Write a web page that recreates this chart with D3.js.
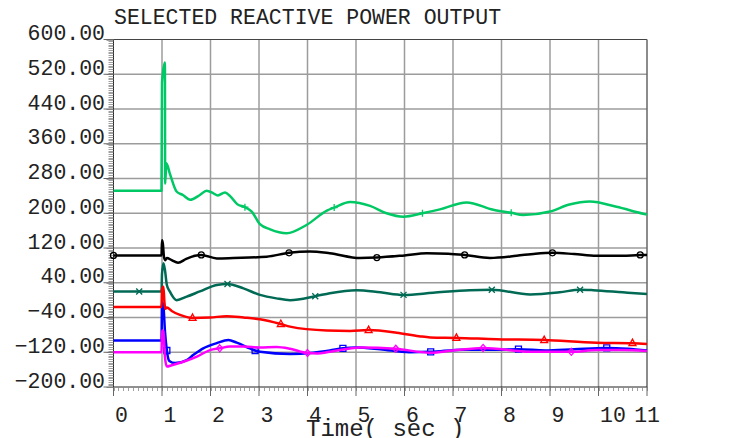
<!DOCTYPE html>
<html lang="en">

<head>
    <meta charset="UTF-8">
    <title>Selected Reactive Power Output</title>
    <style>
        html,
        body {
            background-color: white;
            margin: 0;
        }

        text {
            font-family: "Liberation Mono", "DejaVu Sans Mono", monospace;
            fill: #222;
        }
    </style>
</head>

<body>
    <main></main>
    <script src="https://d3js.org/d3.v7.min.js"></script>
    <script>
        // - - - - - - - - - -
        // Data: [time (s), Mvar]
        // - - - - - - - - - -
        const greenPts = [[0, 252], [0.99, 252], [1.0, 500], [1.06, 547], [1.065, 268], [1.09, 315], [1.16, 292],
            [1.3, 250], [1.43, 242], [1.58, 231], [1.78, 242], [1.92, 252], [2.06, 246], [2.15, 241], [2.3, 248],
            [2.4, 240], [2.55, 221], [2.71, 214], [2.85, 204], [3.02, 175], [3.23, 163], [3.57, 154], [3.98, 173],
            [4.4, 206], [4.55, 213], [4.88, 226], [5.29, 217], [5.63, 200], [5.98, 192], [6.37, 200], [6.73, 209],
            [7.28, 225], [7.83, 208], [8.2, 201], [8.45, 196], [9.0, 204], [9.4, 220], [9.82, 227], [10.37, 215],
            [10.92, 199], [11, 197]];
        const blackPts = [[0, 103], [0.99, 103], [1.0, 138], [1.02, 128], [1.04, 100], [1.07, 92], [1.1, 97],
            [1.2, 92], [1.33, 86], [1.5, 95], [1.68, 102], [1.81, 104], [2.13, 96], [2.47, 97], [3.16, 100],
            [3.62, 109], [4.05, 112], [4.46, 108], [5.08, 97], [5.43, 98], [6.0, 103], [6.46, 108], [6.9, 107],
            [7.24, 104], [7.76, 97], [8.31, 102], [8.7, 107], [9.05, 109], [9.5, 106], [9.96, 102], [10.5, 102],
            [10.86, 104], [11, 104]];
        const tealPts = [[0, 20], [0.53, 20], [0.99, 20], [1.0, 60], [1.03, 85], [1.06, 70], [1.1, 35], [1.16, 20],
            [1.3, 0], [1.51, 8], [1.78, 20], [2.13, 35], [2.35, 37], [2.68, 27], [3.02, 12], [3.36, 4], [3.64, 0],
            [4.16, 9], [4.46, 16], [5.01, 23], [5.5, 18], [5.98, 12], [6.59, 17], [7.35, 23], [7.8, 24], [8.59, 13],
            [9.2, 18], [9.62, 24], [9.89, 23], [10.5, 18], [11, 14]];
        const redPts = [[0, -16], [0.99, -16], [1.0, 25], [1.03, 31], [1.05, -5], [1.07, -20], [1.1, -17],
            [1.2, -25], [1.37, -34], [1.63, -41], [1.99, -40], [2.33, -37], [2.68, -40], [3.02, -44], [3.45, -55],
            [3.64, -61], [4.4, -70], [4.88, -71], [5.26, -69], [5.84, -75], [6.3, -83], [6.53, -86], [7.07, -87],
            [7.9, -90], [8.88, -92], [9.96, -98], [10.7, -99], [11, -101]];
        const bluePts = [[0, -93], [0.99, -93], [1.0, -5], [1.03, -15], [1.06, -70], [1.1, -116], [1.15, -140],
            [1.27, -145], [1.51, -138], [1.65, -126], [1.85, -111], [2.13, -99], [2.37, -92], [2.54, -98],
            [2.81, -111], [2.92, -116], [3.02, -119], [3.64, -124], [4.12, -121], [4.46, -116], [4.73, -111],
            [5.0, -109], [5.5, -113], [6.1, -120], [6.54, -119], [7.2, -114], [7.9, -114], [8.35, -113],
            [8.9, -116], [9.5, -113], [10.17, -110], [10.6, -112], [11, -116]];
        const magentaPts = [[0, -120], [0.99, -120], [1.0, -70], [1.03, -72], [1.06, -130],
            [1.1, -153], [1.2, -150], [1.44, -142], [1.72, -130], [1.99, -115], [2.19, -111], [2.4, -107],
            [2.68, -107], [3.02, -109], [3.36, -108], [3.64, -112], [4.0, -122], [4.2, -123], [4.46, -119],
            [5.08, -109], [5.82, -112], [6.53, -121], [7.0, -116], [7.62, -110], [8.59, -119], [9.44, -119],
            [9.96, -115], [10.5, -115], [11, -117]];

        // times at which each curve carries a symbol
        const greenMarks = [2.71, 4.55, 6.37, 8.2];
        const blackMarks = [0, 1.81, 3.62, 5.43, 7.24, 9.05, 10.86];
        const tealMarks = [0.53, 2.35, 4.16, 5.98, 7.8, 9.62];
        const redMarks = [1.63, 3.45, 5.26, 7.07, 8.88, 10.7];
        const blueMarks = [1.1, 2.92, 4.73, 6.54, 8.35, 10.17];
        const magentaMarks = [2.19, 4.0, 5.82, 7.62, 9.44];

        const yTicks = [600, 520, 440, 360, 280, 200, 120, 40, -40, -120, -200];
        const xTicks = [0, 1, 2, 3, 4, 5, 6, 7, 8, 9, 10, 11];

        !(function () {
            'use strict';

            let svg, x, y,
                canvas = { width: 750, height: 438 },
                plot = { left: 113.5, top: 39.5, right: 647, bottom: 387 };

            const series = [
                { pts: greenPts, marks: greenMarks, color: '#00c864', sym: 'plus' },
                { pts: blackPts, marks: blackMarks, color: '#000000', sym: 'circle' },
                { pts: tealPts, marks: tealMarks, color: '#006a55', sym: 'x' },
                { pts: bluePts, marks: blueMarks, color: '#0000ff', sym: 'square' },
                { pts: redPts, marks: redMarks, color: '#ff0000', sym: 'triangle' },
                { pts: magentaPts, marks: magentaMarks, color: '#ff00ff', sym: 'diamond' }
            ];

            /** Set the svg container and scales */
            function setSvg() {
                svg = d3.select('main')
                    .append('svg')
                    .attr('width', canvas.width)
                    .attr('height', canvas.height);

                x = d3.scaleLinear().domain([0, 11]).range([plot.left, plot.right]);
                y = d3.scaleLinear().domain([-200, 600]).range([plot.bottom, plot.top]);
            }

            /** Grid, frame, ticks and labels */
            function drawAxes() {
                let g = svg.append('g');

                // grid
                g.selectAll('.vgrid')
                    .data(xTicks.filter(function (d) { return d > 0 && d < 11; }))
                    .enter().append('line')
                    .attr('x1', function (d) { return x(d); })
                    .attr('x2', function (d) { return x(d); })
                    .attr('y1', plot.top).attr('y2', plot.bottom)
                    .attr('stroke', '#9c9c9c').attr('stroke-width', 1.5);

                g.selectAll('.hgrid')
                    .data(yTicks.filter(function (d) { return d > -200 && d < 600; }))
                    .enter().append('line')
                    .attr('x1', plot.left).attr('x2', plot.right)
                    .attr('y1', function (d) { return y(d); })
                    .attr('y2', function (d) { return y(d); })
                    .attr('stroke', '#9c9c9c').attr('stroke-width', 1.5);

                // frame
                g.append('line').attr('x1', plot.left).attr('x2', plot.right)
                    .attr('y1', plot.top).attr('y2', plot.top)
                    .attr('stroke', '#444').attr('stroke-width', 1);
                g.append('line').attr('x1', plot.right).attr('x2', plot.right)
                    .attr('y1', plot.top).attr('y2', plot.bottom)
                    .attr('stroke', '#666').attr('stroke-width', 1.5);
                g.append('line').attr('x1', plot.left).attr('x2', plot.left)
                    .attr('y1', plot.top).attr('y2', plot.bottom)
                    .attr('stroke', '#222').attr('stroke-width', 1);
                g.append('line').attr('x1', plot.left).attr('x2', plot.right)
                    .attr('y1', plot.bottom).attr('y2', plot.bottom)
                    .attr('stroke', '#222').attr('stroke-width', 1);

                // minor ticks
                g.selectAll('.ymin')
                    .data(d3.range(-200, 601, 4))
                    .enter().append('line')
                    .attr('x1', function (d) { return d % 80 === 40 || d % 80 === -40 ? plot.left - 7 : plot.left - 5; })
                    .attr('x2', plot.left)
                    .attr('y1', function (d) { return Math.round(y(d)) + 0.5; })
                    .attr('y2', function (d) { return Math.round(y(d)) + 0.5; })
                    .attr('stroke', '#888').attr('stroke-width', 0.8);

                g.selectAll('.xmin')
                    .data(d3.range(0, 111).map(function (i) { return i / 10; }))
                    .enter().append('line')
                    .attr('x1', function (d) { return Math.round(x(d)) + 0.5; })
                    .attr('x2', function (d) { return Math.round(x(d)) + 0.5; })
                    .attr('y1', plot.bottom)
                    .attr('y2', plot.bottom + 4)
                    .attr('stroke', '#888').attr('stroke-width', 0.8);

                // major ticks
                g.selectAll('.ymaj')
                    .data(yTicks)
                    .enter().append('line')
                    .attr('x1', plot.left - 10).attr('x2', plot.left)
                    .attr('y1', function (d) { return y(d); })
                    .attr('y2', function (d) { return y(d); })
                    .attr('stroke', '#666').attr('stroke-width', 1);

                g.selectAll('.xmaj')
                    .data(xTicks)
                    .enter().append('line')
                    .attr('x1', function (d) { return x(d); })
                    .attr('x2', function (d) { return x(d); })
                    .attr('y1', plot.bottom).attr('y2', plot.bottom + 9)
                    .attr('stroke', '#666').attr('stroke-width', 1);

                // labels
                g.selectAll('.ylab')
                    .data(yTicks)
                    .enter().append('text')
                    .attr('x', 105)
                    .attr('y', function (d) { return y(d) + 0.5; })
                    .attr('text-anchor', 'end')
                    .style('font-size', '21.5px')
                    .text(function (d) { return d3.format('.2f')(d); });

                g.selectAll('.xlab')
                    .data(xTicks)
                    .enter().append('text')
                    .attr('x', function (d, i) { return i === xTicks.length - 1 ? 660 : x(d) + 1.5; })
                    .attr('y', 422)
                    .attr('text-anchor', function (d, i) { return i === xTicks.length - 1 ? 'end' : 'start'; })
                    .style('font-size', '21.5px')
                    .text(function (d) { return d; });

                svg.append('text')
                    .attr('x', 114).attr('y', 23.5)
                    .style('font-size', '21.5px')
                    .text('SELECTED REACTIVE POWER OUTPUT');

                svg.append('text')
                    .attr('x', 306).attr('y', 436)
                    .style('font-size', '24px')
                    .text('Time( sec )');
            }

            /** Curves and their symbols */
            function drawSeries() {
                let line = d3.line()
                    .x(function (d) { return x(d[0]); })
                    .y(function (d) { return y(d[1]); })
                    .curve(d3.curveMonotoneX);

                series.forEach(function (s) {
                    svg.append('path')
                        .datum(s.pts)
                        .attr('d', line)
                        .attr('fill', 'none')
                        .attr('stroke', s.color)
                        .attr('stroke-width', 2.5)
                        .attr('stroke-linejoin', 'round');

                    let pts = s.marks.map(function (t) {
                        return s.pts.find(function (p) { return p[0] === t; });
                    }).filter(Boolean);

                    svg.append('g').selectAll('path')
                        .data(pts)
                        .enter().append('path')
                        .attr('transform', function (d) { return 'translate(' + x(d[0]) + ',' + y(d[1]) + ')'; })
                        .attr('d', symbolPath(s.sym))
                        .attr('fill', 'none')
                        .attr('stroke', s.color)
                        .attr('stroke-width', 1.3);
                });
            }

            function symbolPath(sym) {
                switch (sym) {
                    case 'circle': return 'M3,0A3,3 0 1,1 -3,0A3,3 0 1,1 3,0Z';
                    case 'square': return 'M-3,-3H3V3H-3Z';
                    case 'triangle': return 'M0,-4L3.5,2.5H-3.5Z';
                    case 'diamond': return 'M0,-3.5L3,0L0,3.5L-3,0Z';
                    case 'x': return 'M-3,-3L3,3M3,-3L-3,3';
                    default: return 'M-3.5,0H3.5M0,-3.5V3.5';
                }
            }

            function main() {
                setSvg();
                drawAxes();
                drawSeries();
            }

            window.addEventListener('load', main);
        }());
    </script>
</body>

</html>
